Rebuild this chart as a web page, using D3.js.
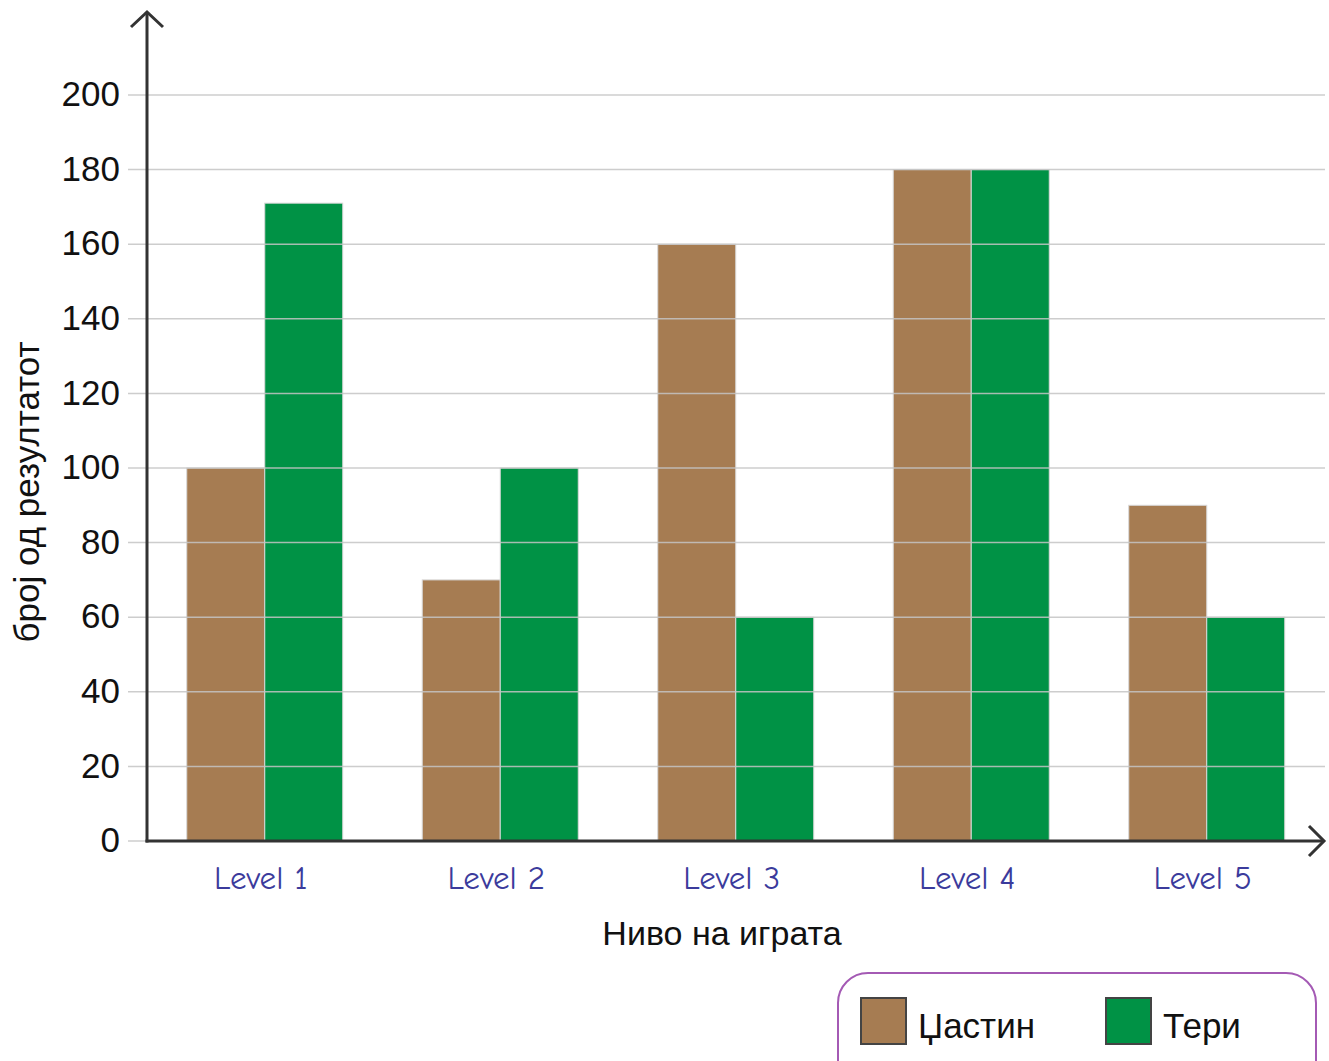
<!doctype html>
<html lang="mk">
<head>
<meta charset="UTF-8">
<title>Ниво на играта</title>
<style>
  body { margin: 0; background: #fff; }
</style>
</head>
<body>
<script src="https://cdn.jsdelivr.net/npm/d3@7"></script>
<script>
    // data
    const levels = ['Level 1', 'Level 2', 'Level 3', 'Level 4', 'Level 5']
    const series = ['Џастин', 'Тери']
    const justin = [100, 70, 160, 180, 90]
    const teri = [171, 100, 60, 180, 60]
    const yTicks = [0, 20, 40, 60, 80, 100, 120, 140, 160, 180, 200]

    const colors = ['#a67c52', '#009245']

    const W = 1329, H = 1061
    const x0 = 147, x1end = 1324.5
    const yZero = 841, yTop = 95

    const svg = d3.select('body').append('svg')
        .attr('width', W)
        .attr('height', H)

    const x = d3.scaleBand()
        .domain(levels)
        .range([x0, x1end])
        .paddingInner(0.3376)
        .paddingOuter(0.1688)

    const xs = d3.scaleBand()
        .domain(series)
        .range([0, x.bandwidth()])

    const y = d3.scaleLinear()
        .domain([0, 200])
        .range([yZero, yTop])

    const rows = levels.map((l, i) => ({level: l, values: [justin[i], teri[i]]}))

    // bars
    svg.append('g').selectAll('g')
        .data(rows)
        .join('g')
        .attr('transform', d => `translate(${x(d.level)},0)`)
        .selectAll('rect')
        .data(d => d.values.map((v, j) => ({s: series[j], v: v, j: j})))
        .join('rect')
        .attr('x', d => xs(d.s))
        .attr('y', d => y(d.v))
        .attr('width', xs.bandwidth())
        .attr('height', d => y(0) - y(d.v))
        .attr('fill', d => colors[d.j])
        .attr('stroke', '#d8d8d8')
        .attr('stroke-width', 1)

    // grid lines (drawn over bars)
    svg.append('g').selectAll('line')
        .data(yTicks)
        .join('line')
        .attr('x1', 128)
        .attr('x2', 1325)
        .attr('y1', d => y(d))
        .attr('y2', d => y(d))
        .attr('stroke', '#c4c4c4')
        .attr('stroke-opacity', 0.85)
        .attr('stroke-width', 1.5)

    // y tick labels
    svg.append('g').selectAll('text')
        .data(yTicks)
        .join('text')
        .attr('x', 120)
        .attr('y', d => y(d) + 2)
        .attr('text-anchor', 'end')
        .attr('dominant-baseline', 'middle')
        .attr('font-family', 'Liberation Sans, Arial, sans-serif')
        .attr('font-size', 35)
        .attr('fill', '#111')
        .text(d => d)

    // axes with arrows
    const axisColor = '#333'
    svg.append('line')
        .attr('x1', x0).attr('y1', yZero + 1.5)
        .attr('x2', x0).attr('y2', 12)
        .attr('stroke', axisColor).attr('stroke-width', 3)
    svg.append('path')
        .attr('d', `M${x0 - 16},${27} L${x0},${12} L${x0 + 16},${27}`)
        .attr('fill', 'none').attr('stroke', axisColor).attr('stroke-width', 3)

    svg.append('line')
        .attr('x1', x0 - 1.5).attr('y1', yZero)
        .attr('x2', 1324).attr('y2', yZero)
        .attr('stroke', axisColor).attr('stroke-width', 3)
    svg.append('path')
        .attr('d', `M${1309},${yZero - 15} L${1324},${yZero} L${1309},${yZero + 15}`)
        .attr('fill', 'none').attr('stroke', axisColor).attr('stroke-width', 3)

    // x labels
    svg.append('g').selectAll('text')
        .data(levels)
        .join('text')
        .attr('x', d => x(d) + x.bandwidth() / 2 - 4)
        .attr('y', 889)
        .attr('text-anchor', 'middle')
        .attr('font-family', '"Comic Sans MS", "Comic Neue", "DejaVu Sans", sans-serif')
        .attr('font-size', 33)
        .attr('fill', '#3b3b9c')
        .text(d => d)

    // axis titles
    svg.append('text')
        .attr('x', 722)
        .attr('y', 945)
        .attr('text-anchor', 'middle')
        .attr('font-family', 'Liberation Sans, Arial, sans-serif')
        .attr('font-size', 34)
        .attr('fill', '#111')
        .text('Ниво на играта')

    svg.append('text')
        .attr('transform', 'translate(39,492) rotate(-90)')
        .attr('text-anchor', 'middle')
        .attr('font-family', 'Liberation Sans, Arial, sans-serif')
        .attr('font-size', 35)
        .attr('fill', '#111')
        .text('број од резултатот')

    // legend
    const legend = svg.append('g')
    legend.append('rect')
        .attr('x', 838).attr('y', 973)
        .attr('width', 478).attr('height', 130)
        .attr('rx', 30).attr('ry', 30)
        .attr('fill', 'none')
        .attr('stroke', '#a45ab4')
        .attr('stroke-width', 2)

    const legendX = [861, 1106]
    series.forEach((s, i) => {
        legend.append('rect')
            .attr('x', legendX[i]).attr('y', 998)
            .attr('width', 45).attr('height', 46)
            .attr('fill', colors[i])
            .attr('stroke', '#444').attr('stroke-width', 2)
        legend.append('text')
            .attr('x', legendX[i] + 57).attr('y', 1038)
            .attr('font-family', 'Liberation Sans, Arial, sans-serif')
            .attr('font-size', 35)
            .attr('fill', '#111')
            .text(s)
    })
</script>
</body>
</html>
